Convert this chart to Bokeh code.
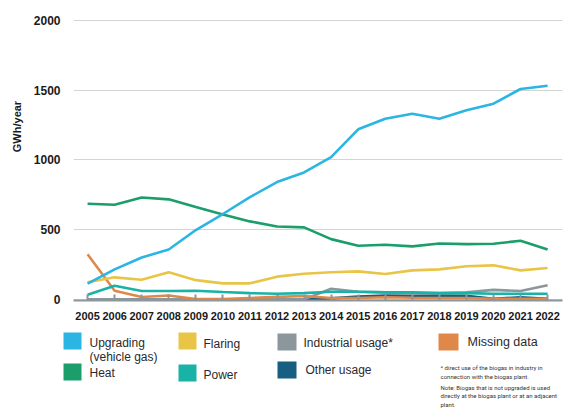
import math
from bokeh.plotting import figure
from bokeh.models import FixedTicker, Range1d, ColumnDataSource
from bokeh.layouts import column, row
from bokeh.core.properties import value
from bokeh.embed import file_html
from bokeh.resources import INLINE

years = list(range(2005, 2023))
upgrading = [113, 215, 300, 358, 497, 612, 733, 841, 910, 1020, 1219, 1295, 1331, 1295, 1355, 1403, 1508, 1532]
heat = [686, 678, 730, 717, 662, 609, 559, 523, 516, 432, 385, 392, 380, 401, 396, 399, 420, 358]
flaring = [123, 158, 141, 194, 138, 115, 115, 163, 184, 194, 201, 182, 208, 215, 237, 244, 208, 225]
power = [34, 98, 60, 60, 62, 53, 45, 40, 45, 55, 55, 50, 50, 45, 45, 40, 40, 40]
industrial = [0, 0, 0, 0, 0, 0, 0, 0, 0, 76, 55, 50, 45, 45, 50, 68, 60, 102]
other = [0, 0, 0, 0, 0, 0, 0, 0, 0, 7, 20, 28, 25, 28, 25, 5, 15, 5]
missing = [323, 62, 17, 28, 3, 2, 10, 18, 24, 10, 10, 15, 12, 10, 10, 5, 5, 5]
y_ticks = [0, 500, 1000, 1500, 2000]

series = [
    ("Other usage", other, "#165f80"),
    ("Industrial usage*", industrial, "#8c969d"),
    ("Missing data", missing, "#e0884a"),
    ("Power", power, "#18b3a6"),
    ("Flaring", flaring, "#e8c547"),
    ("Heat", heat, "#1c9e6b"),
    ("Upgrading (vehicle gas)", upgrading, "#2bb5e3"),
]

# narrow panel holding the vertical y-axis title (canvas-like coords, y downward)
yl = figure(width=30, height=326, output_backend="svg", toolbar_location=None,
            x_range=Range1d(0, 30), y_range=Range1d(326, 0),
            min_border=0, min_border_left=0, min_border_right=0, min_border_top=0, min_border_bottom=0)
yl.axis.visible = False
yl.grid.visible = False
yl.outline_line_color = None
yl.text(x=[16], y=[127], text=["GWh/year"], angle=math.pi / 2, text_align="center",
        text_baseline="middle", text_font=value("Liberation Sans"), text_font_style="bold",
        text_font_size="11px", text_color="#1a1a1a")

p = figure(width=554, height=326, output_backend="svg", toolbar_location=None,
           x_range=Range1d(2004.48, 2022.55), y_range=Range1d(-8, 2035),
           min_border_left=42, min_border_right=22, min_border_top=15, min_border_bottom=26)
p.outline_line_color = None
p.background_fill_color = "white"
p.border_fill_color = "white"

src = ColumnDataSource(dict(year=years, **{name: vals for name, vals, c in series}))
for name, vals, color in series:
    p.line(x="year", y=name, source=src, line_color=color, line_width=2.6)

p.xgrid.grid_line_color = None
p.ygrid.grid_line_color = "#d4d4d4"
p.ygrid.grid_line_width = 1
p.yaxis.ticker = FixedTicker(ticks=y_ticks)
p.yaxis.axis_line_color = None
p.yaxis.major_tick_line_color = None
p.yaxis.minor_tick_line_color = None
p.yaxis.major_label_text_font = "Liberation Sans"
p.yaxis.major_label_text_font_style = "bold"
p.yaxis.major_label_text_font_size = "12px"
p.yaxis.major_label_text_color = "#1a1a1a"
p.yaxis.major_label_standoff = 7

p.xaxis.ticker = FixedTicker(ticks=years)
p.xaxis.axis_line_color = "#8c969d"
p.xaxis.axis_line_width = 2
p.xaxis.major_tick_line_color = "#8c969d"
p.xaxis.major_tick_line_width = 2
p.xaxis.major_tick_in = 6
p.xaxis.major_tick_out = 0
p.xaxis.minor_tick_line_color = None
p.xaxis.major_label_text_font = "Liberation Sans"
p.xaxis.major_label_text_font_style = "bold"
p.xaxis.major_label_text_font_size = "11px"
p.xaxis.major_label_text_color = "#1a1a1a"
p.xaxis.major_label_standoff = 11

# Legend panel (canvas-like coordinates, y downward)
lg = figure(width=584, height=86, output_backend="svg", toolbar_location=None,
            x_range=Range1d(0, 584), y_range=Range1d(412, 326),
            min_border=0, min_border_left=0, min_border_right=0, min_border_top=0, min_border_bottom=0)
lg.axis.visible = False
lg.grid.visible = False
lg.outline_line_color = None

colors = {name: c for name, vals, c in series}
boxes = [
    ("Upgrading (vehicle gas)", 63, 81, 332, 349),
    ("Heat", 63, 81, 363, 380),
    ("Flaring", 178, 196, 332, 349),
    ("Power", 178, 196, 364, 381),
    ("Industrial usage*", 277, 296, 333, 350),
    ("Other usage", 277, 296, 361, 378),
    ("Missing data", 438, 458, 333, 350),
]
lg.quad(left=[b[1] for b in boxes], right=[b[2] for b in boxes],
        top=[b[3] for b in boxes], bottom=[b[4] for b in boxes],
        fill_color=[colors[b[0]] for b in boxes], line_color=None)

texts = [
    ("Upgrading", 89, 342),
    ("(vehicle gas)", 89, 356),
    ("Heat", 89, 372),
    ("Flaring", 203, 343),
    ("Power", 203, 374),
    ("Industrial usage*", 303, 342),
    ("Other usage", 305, 369),
]
lg.text(x=[t[1] for t in texts], y=[t[2] for t in texts], text=[t[0] for t in texts],
        text_font=value("Liberation Sans"), text_font_size="12px", text_color="#2a2a2a",
        text_baseline="middle", text_align="left")
lg.text(x=[467], y=[341], text=["Missing data"], text_font=value("Liberation Sans"),
        text_font_size="12.5px", text_color="#2a2a2a", text_baseline="middle")

notes = [
    ("* direct use of the biogas in industry in", 367),
    ("connection with the biogas plant.", 376),
    ("Note: Biogas that is not upgraded is used", 387),
    ("directly at the biogas plant or at an adjacent", 395),
    ("plant.", 404),
]
lg.text(x=[440] * len(notes), y=[n[1] for n in notes], text=[n[0] for n in notes],
        text_font=value("Roboto"), text_font_size="6px", text_color="#333333",
        text_baseline="middle")

layout = column(row(yl, p, spacing=0), lg, spacing=0)
open("out.html", "w").write(file_html(layout, INLINE))
